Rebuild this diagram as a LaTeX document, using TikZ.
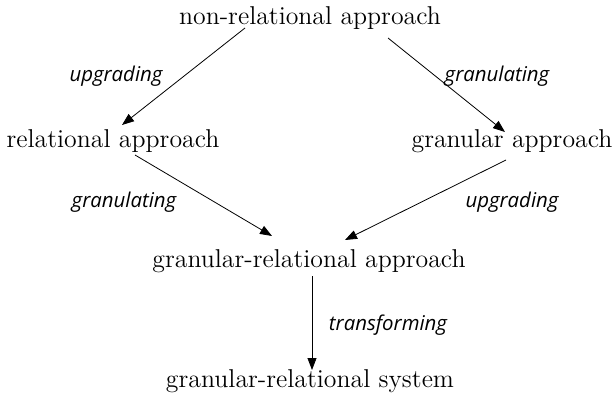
\documentclass[tikz,border=0pt]{standalone}
\usepackage{fontspec}
\newfontfamily\labelfamily{Open Sans}
\usetikzlibrary{arrows.meta,calc}
\newcommand{\approachfont}{\fontsize{12.9}{15}\selectfont}
\newcommand{\labelfont}{\labelfamily\itshape\fontsize{10.2}{12}\selectfont}
\tikzset{
    approach/.style={font=\approachfont, inner sep=0pt, anchor=base},
    steplabel/.style={font=\labelfont, inner sep=0pt, anchor=base},
    flow/.style={-{Triangle[length=6pt,width=4.5pt]}, line width=0.4pt}
}
\begin{document}
\begin{tikzpicture}[x=0.5pt, y=-0.5pt]
        \useasboundingbox (0,0) rectangle (613,400);
        % approaches
        \node[approach] (nonrel) at (310,25) {non-relational approach};
        \node[approach] (rel) at (113,148) {relational approach};
        \node[approach] (gran) at (512,148) {granular approach};
        \node[approach] (grrel) at (309,267) {granular-relational approach};
        \node[approach] (grsys) at (310,387) {granular-relational system};
        % arrows between them
        \draw[flow] ($(nonrel.base)+(-65,3)$) -- ($(rel.base)+(9,-23)$);
        \draw[flow] ($(nonrel.base)+(78,13)$) -- ($(gran.base)+(-7,-16)$);
        \draw[flow] ($(rel.base)+(22,7)$) -- ($(grrel.base)+(-37,-31)$);
        \draw[flow] ($(gran.base)+(-6,12)$) -- ($(grrel.base)+(36,-27)$);
        \draw[flow] ($(grrel.base)+(3,9)$) -- ($(grsys.base)+(2,-17)$);
        % labels
        \node[steplabel] (upleft) at (116,82) {upgrading};
        \node[steplabel] (granright) at (497,82) {granulating};
        \node[steplabel] (granleft) at (124,207) {granulating};
        \node[steplabel] (upright) at (512,207) {upgrading};
        \node[steplabel] (trans) at (388,330) {transforming};
\end{tikzpicture}
\end{document}
